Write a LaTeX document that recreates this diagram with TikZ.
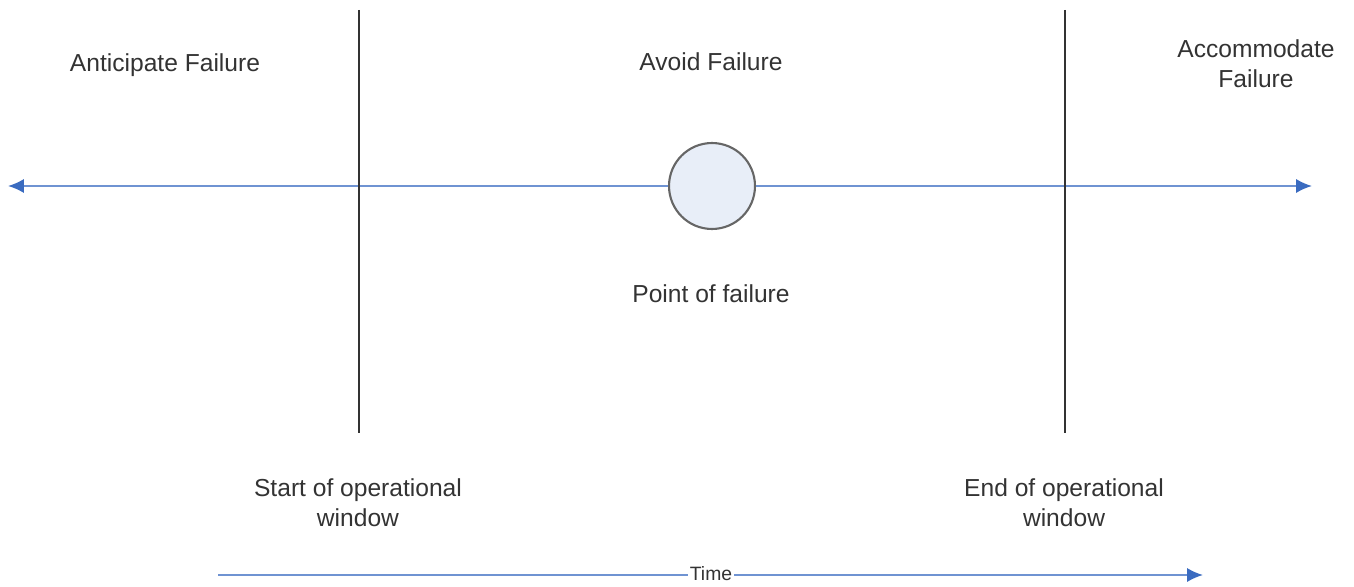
\documentclass[tikz,border=0pt]{standalone}
\usepackage{fontspec}
\setmainfont{Liberation Sans}
\usetikzlibrary{arrows.meta}

\definecolor{axisblue}{HTML}{6F93D2}
\definecolor{tipblue}{HTML}{3A6BC0}
\definecolor{circfill}{HTML}{E8EEF8}

\begin{document}
\begin{tikzpicture}[x=0.02cm,y=-0.02cm,
    axis/.style={axisblue, line width=1.1pt, -{Latex[length=9pt,width=8pt,color=tipblue]}},
    border/.style={black!80, line width=0.9pt},
    lbl/.style={font=\fontsize{14}{17}\selectfont, text=black!80, align=center, inner sep=0pt}]

\useasboundingbox (0,0) rectangle (1354,587);

% time line with the point of failure
\coordinate (left) at (8,186);
\coordinate (right) at (1312,186);
\node [circle, draw=black!60, line width=1.2pt, fill=circfill, inner sep=0pt, minimum size=1.72cm] (pof) at (712,186) {};
\draw [axis] (pof.east) -- (right);
\draw [axis] (pof.west) -- (left);

% operational window
\coordinate (s1) at (359,10);
\coordinate (s2) at (359,433);
\coordinate (e1) at (1065,10);
\coordinate (e2) at (1065,433);
\draw [border] (s1) -- (s2);
\draw [border] (e1) -- (e2);

\node [lbl] (ant) at (165,65) {Anticipate Failure};
\node [lbl] (avo) at (711,62) {Avoid Failure};
\node [lbl] (acc) at (1256,64) {Accommodate\\Failure};
\node [lbl] (ptf) at (711,294) {Point of failure};
\node [lbl] (sow) at (358,503) {Start of operational\\window};
\node [lbl] (eow) at (1064,503) {End of operational\\window};

% time arrow
\coordinate (t0) at (218,575);
\coordinate (t1) at (1203,575);
\draw [axis] (t0) -- (t1);
\node [lbl, font=\fontsize{11}{13}\selectfont, fill=white, inner sep=1pt] (time) at (711,574) {Time};

\end{tikzpicture}
\end{document}
